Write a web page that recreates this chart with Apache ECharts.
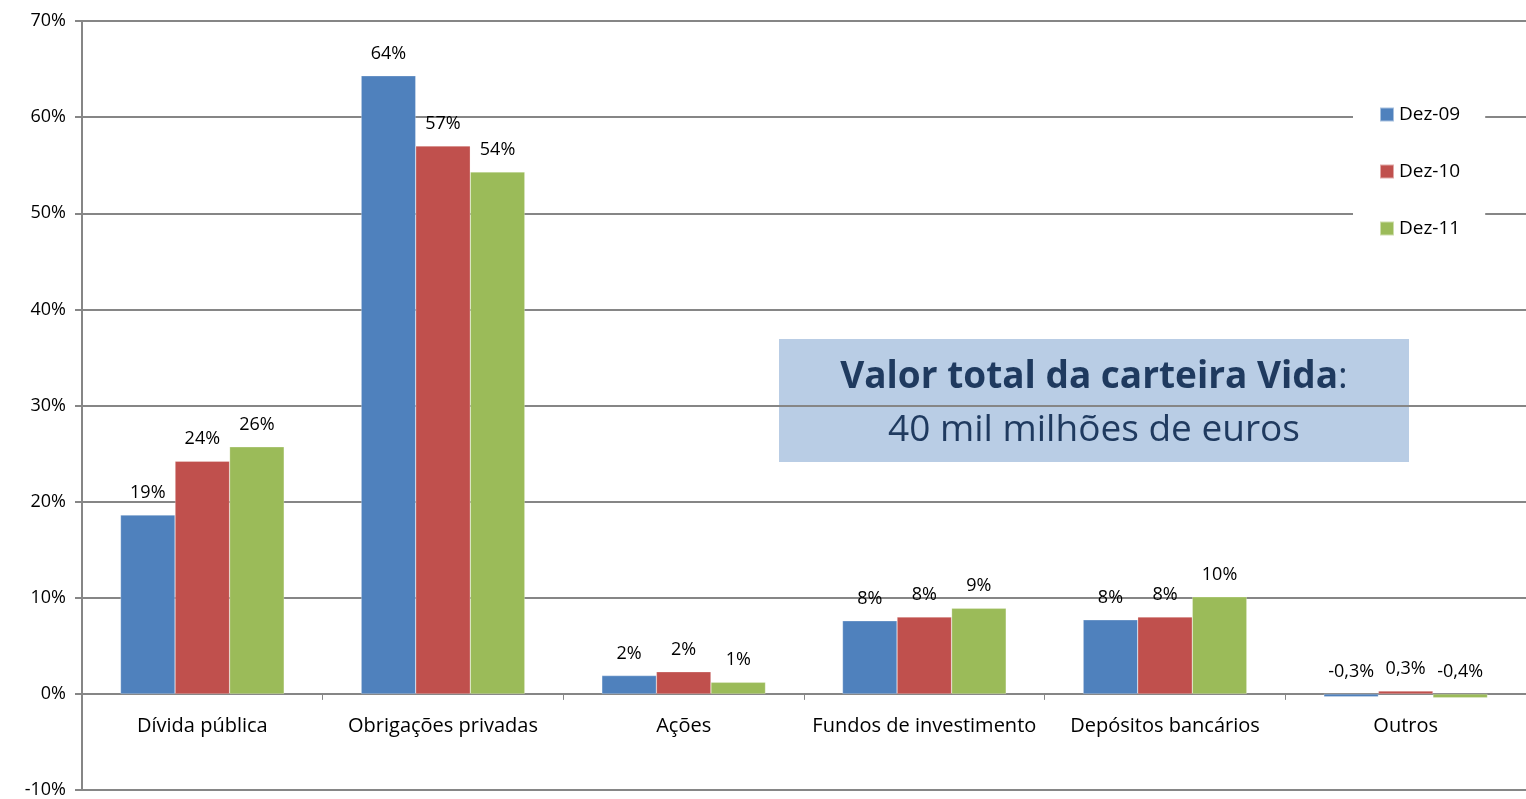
<!DOCTYPE html>
<html>
<head>
<meta charset="utf-8">
<script src="https://cdn.jsdelivr.net/npm/echarts@6/dist/echarts.min.js"></script>
<style>
  html, body { margin: 0; padding: 0; background: #fff; }
  #chart { width: 1526px; height: 799px; }
</style>
</head>
<body>
<div id="chart"></div>
<script>
const categories = ['Dívida pública', 'Obrigações privadas', 'Ações', 'Fundos de investimento', 'Depósitos bancários', 'Outros'];
const dez09 = [18.6, 64.3, 1.9, 7.6, 7.7, -0.3];
const dez10 = [24.2, 57.0, 2.3, 8.0, 8.0, 0.3];
const dez11 = [25.7, 54.3, 1.2, 8.9, 10.1, -0.4];
const seriesNames = ['Dez-09', 'Dez-10', 'Dez-11'];
const colors = ['#4f81bd', '#c0504d', '#9bbb59'];

const FONT = 'Open Sans';

// rounded like the source: whole percent, one decimal under 1%
function fmt(v) {
  if (Math.abs(v) < 1) return v.toFixed(1).replace('.', ',') + '%';
  return Math.round(v) + '%';
}

const chart = echarts.init(document.getElementById('chart'));

const series = [dez09, dez10, dez11].map((data, i) => ({
  name: seriesNames[i],
  type: 'bar',
  data: data,
  barGap: '0%',
  barCategoryGap: '32%',
  itemStyle: { color: colors[i], borderColor: 'rgba(255,255,255,0.5)', borderWidth: 0.5 },
  label: {
    show: true,
    position: 'top',
    distance: 13,
    color: '#000',
    fontFamily: FONT,
    fontSize: 18,
    formatter: p => fmt(p.value)
  }
}));

chart.setOption({
  animation: false,
  color: colors,
  grid: { left: 82, right: 0, top: 21, bottom: 9, containLabel: false, outerBoundsMode: 'none' },
  legend: {
    orient: 'vertical',
    left: 1353,
    top: 97,
    padding: [8, 25, 8, 26],
    itemGap: 38,
    itemWidth: 14,
    itemHeight: 14,
    icon: 'rect',
    backgroundColor: '#fff',
    textStyle: { fontFamily: FONT, fontSize: 19, color: '#000' },
    data: seriesNames
  },
  xAxis: [{
    type: 'category',
    data: categories,
    axisLine: { onZero: true, lineStyle: { color: '#868686', width: 2 } },
    axisTick: { show: true, length: 6, lineStyle: { color: '#868686' } },
    axisLabel: { show: false }
  }, {
    // label row sitting under the 0% line
    type: 'category',
    data: categories,
    position: 'bottom',
    offset: -96,
    axisLine: { show: false },
    axisTick: { show: false },
    axisLabel: { interval: 0, color: '#000', fontFamily: FONT, fontSize: 20, margin: 22 }
  }],
  yAxis: {
    type: 'value',
    min: -10,
    max: 70,
    interval: 10,
    axisLine: { show: true, lineStyle: { color: '#868686', width: 2 } },
    axisTick: { show: true, length: 7, lineStyle: { color: '#868686', width: 2 } },
    splitLine: { lineStyle: { color: '#868686', width: 2 } },
    axisLabel: { color: '#000', fontFamily: FONT, fontSize: 18, margin: 16, formatter: '{value}%' }
  },
  graphic: [{
    type: 'group',
    left: 779,
    top: 339,
    children: [
      { type: 'rect', shape: { x: 0, y: 0, width: 630, height: 123 }, style: { fill: '#b9cde5' } },
      {
        type: 'text',
        x: 315, y: 38,
        style: {
          text: '{b|Valor total da carteira Vida}{n|:}',
          align: 'center', verticalAlign: 'middle',
          rich: {
            b: { fontFamily: FONT, fontSize: 37, fontWeight: 'bold', fill: '#1f3a5f' },
            n: { fontFamily: FONT, fontSize: 37, fill: '#1f3a5f' }
          }
        }
      },
      {
        type: 'text',
        x: 315, y: 91,
        style: { text: '40 mil milhões de euros', align: 'center', verticalAlign: 'middle', fontFamily: FONT, fontSize: 37, fill: '#1f3a5f' }
      }
    ]
  }],
  series: series
});
</script>
</body>
</html>
